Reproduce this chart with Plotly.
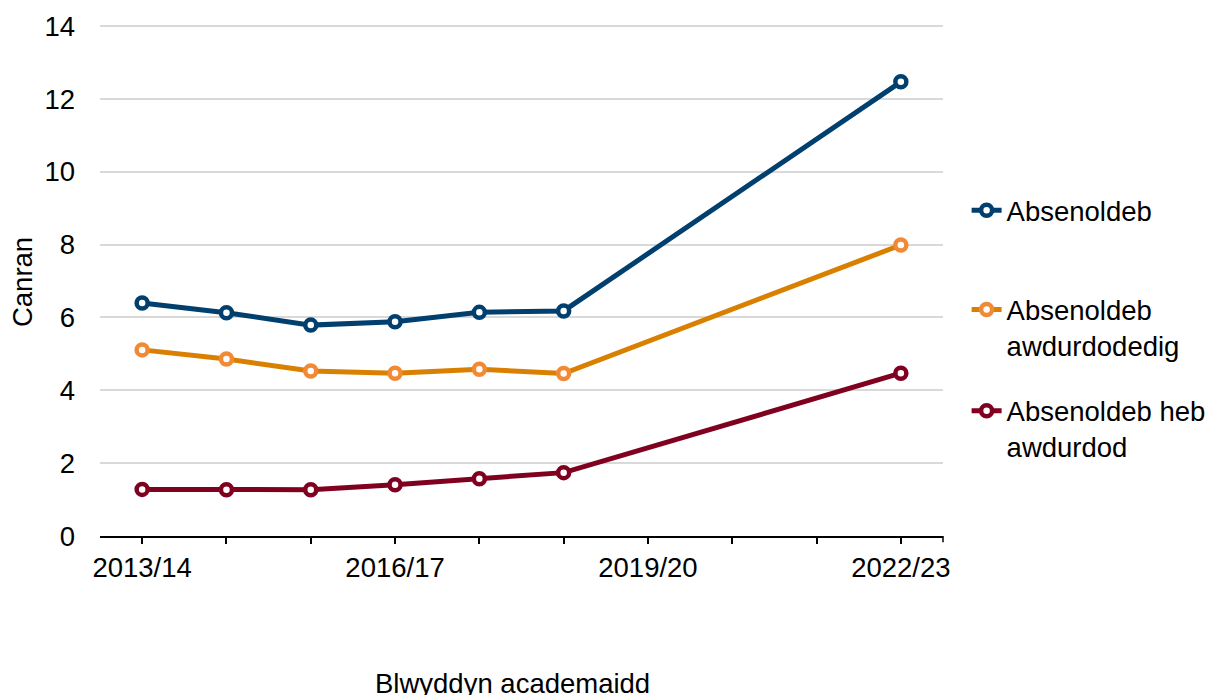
import plotly.graph_objects as go

years = ["2013/14", "2014/15", "2015/16", "2016/17", "2017/18", "2018/19",
         "2019/20", "2020/21", "2021/22", "2022/23"]
tick_labels = ["2013/14", "", "", "2016/17", "", "", "2019/20", "", "", "2022/23"]

absenoldeb = [6.40, 6.13, 5.79, 5.88, 6.14, 6.18, None, None, None, 12.47]
awdurdodedig = [5.11, 4.86, 4.53, 4.47, 4.58, 4.46, None, None, None, 7.99]
heb_awdurdod = [1.28, 1.27, 1.27, 1.41, 1.57, 1.74, None, None, None, 4.47]

names = ["Absenoldeb", "Absenoldeb<br>awdurdodedig", "Absenoldeb heb<br>awdurdod"]
line_colors = ["#003F6E", "#D98000", "#800020"]
marker_colors = ["#003F6E", "#F28A35", "#800020"]
series = [absenoldeb, awdurdodedig, heb_awdurdod]
legend_ids = ["legend", "legend2", "legend3"]
legend_y = [0.685, 0.491, 0.293]

FONT = "Liberation Sans, Arial, sans-serif"
FS = 27.5
tfont = dict(family=FONT, size=FS, color="#000000")

fig = go.Figure()
for i, (name, vals) in enumerate(zip(names, series)):
    fig.add_trace(go.Scatter(
        x=years, y=vals, name=name, mode="lines+markers",
        connectgaps=True, legend=legend_ids[i],
        line=dict(color=line_colors[i], width=5),
        marker=dict(symbol="circle", size=11, color="white",
                    line=dict(color=marker_colors[i], width=4.5)),
    ))

legend_common = dict(x=1.028, xanchor="left", yanchor="top", font=tfont,
                     valign="top", bgcolor="rgba(0,0,0,0)")

# The page body has an 8px margin, so the figure is 8px smaller and offset.
fig.update_layout(
    width=1205, height=687,
    margin=dict(l=92, r=270, t=17, b=159, autoexpand=False),
    paper_bgcolor="white", plot_bgcolor="white",
    font=tfont,
    showlegend=True,
    legend=dict(y=legend_y[0], **legend_common),
    legend2=dict(y=legend_y[1], **legend_common),
    legend3=dict(y=legend_y[2], **legend_common),
    xaxis=dict(
        type="category", categoryorder="array", categoryarray=years,
        range=[-0.5, 9.5],
        tickmode="array", tickvals=years, ticktext=tick_labels,
        ticks="outside", ticklen=6, tickwidth=1.5, tickcolor="#000000",
        showline=True, linecolor="#000000", linewidth=1.5,
        showgrid=False, zeroline=False,
        tickfont=tfont, automargin=False,
        fixedrange=True,
    ),
    yaxis=dict(
        range=[0, 14.03], tickmode="array", tickvals=[0, 2, 4, 6, 8, 10, 12, 14],
        showgrid=True, gridcolor="#D9D9D9", gridwidth=1.5,
        showline=False, zeroline=False, ticks="",
        ticklabelstandoff=24,
        tickfont=tfont, automargin=False,
        fixedrange=True,
    ),
)

# end tick at right edge of x axis (Excel style)
fig.add_shape(type="line", xref="x domain", yref="paper", x0=1, x1=1, y0=0, y1=-0.012,
              line=dict(color="#000000", width=1.5))

fig.add_annotation(text="Canran", xref="paper", yref="paper",
                   x=-0.0925, y=0.497, xanchor="center", yanchor="middle",
                   textangle=-90, showarrow=False, font=tfont)

fig.add_annotation(text="Blwyddyn academaidd", xref="paper", yref="paper",
                   x=0.489, y=-0.289, xanchor="center", yanchor="middle",
                   showarrow=False, font=tfont)

fig.write_html("out.html", config={"displayModeBar": False})
